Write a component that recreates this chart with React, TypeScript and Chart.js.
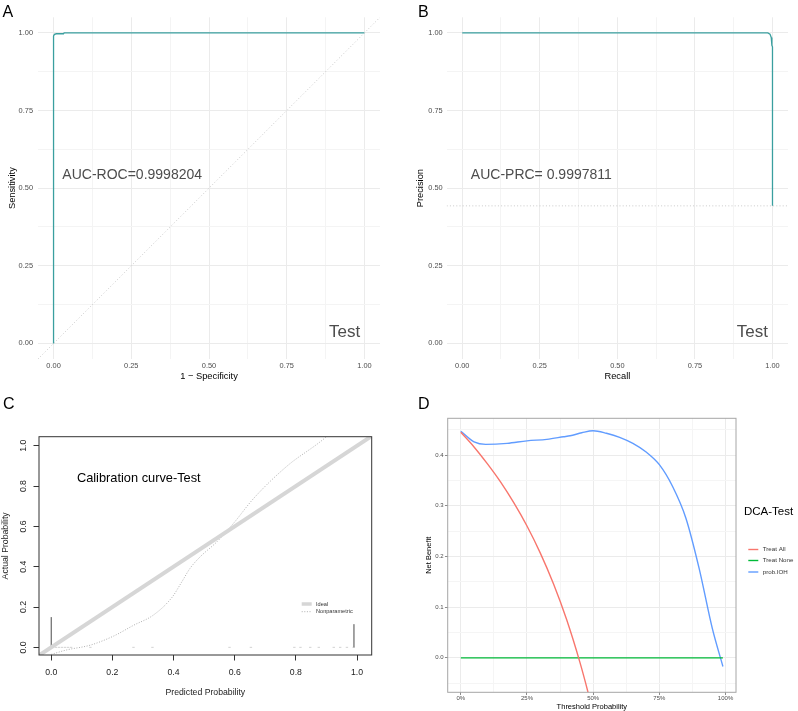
import { useEffect, useRef } from "react";
import { Chart, registerables } from "chart.js";

Chart.register(...registerables);

const FONT = '"Liberation Sans", Arial, Helvetica, sans-serif';

// A: ROC curve on the test set
const rocFpr = [0, 0, 0.003, 0.009, 0.032, 0.034, 1];
const rocTpr = [0, 0.99, 0.995, 0.997, 0.997, 1, 1];
const rocChance = [-0.05, 1.05];
const rocAuc = "0.9998204";

// B: precision-recall curve
const prRecall = [0, 0.985, 0.992, 0.996, 0.998, 1, 1];
const prPrecision = [1, 1, 0.996, 0.985, 0.96, 0.955, 0.443];
const prBaseline = 0.443;
const prAuc = "0.9997811";

// shared tick grid for A and B (labels on quarters)
const eighthTicks = [0, 0.125, 0.25, 0.375, 0.5, 0.625, 0.75, 0.875, 1];

// C: calibration curve
const calPred = [0, 0.05, 0.128, 0.204, 0.27, 0.334, 0.395, 0.427, 0.454, 0.487, 0.542, 0.596, 0.662, 0.771, 0.896, 0.93];
const calObs = [-0.035, -0.013, 0.011, 0.056, 0.11, 0.16, 0.248, 0.325, 0.392, 0.449, 0.524, 0.615, 0.739, 0.899, 1.04, 1.09];
const idealLine = [-0.05, 1.06];
const rugPred = [0.005, 0.015, 0.025, 0.035, 0.045, 0.055, 0.065, 0.128, 0.269, 0.331, 0.583, 0.653, 0.795, 0.815, 0.847, 0.875, 0.924, 0.945, 0.967, 0.989];
const spikeX = [0, 0.99];
const spikeH = [0.15, 0.115];
const calTicks = [0, 0.2, 0.4, 0.6, 0.8, 1];

// D: decision curve analysis
const dcaThreshold = [0, 0.05, 0.094, 0.175, 0.25, 0.325, 0.388, 0.413, 0.457, 0.5, 0.55, 0.6, 0.65, 0.7, 0.75, 0.8, 0.85, 0.9, 0.95, 0.99];
const dcaModel = [0.447, 0.426, 0.421, 0.423, 0.428, 0.431, 0.436, 0.438, 0.444, 0.448, 0.443, 0.435, 0.423, 0.406, 0.381, 0.338, 0.276, 0.177, 0.058, -0.017];
const treatAllThreshold = [0, 0.05, 0.1, 0.15, 0.2, 0.25, 0.3, 0.35, 0.4, 0.45, 0.48, 0.5];
const treatAllNb = [0.445, 0.416, 0.383, 0.347, 0.306, 0.26, 0.207, 0.146, 0.075, -0.009, -0.067, -0.11];
const treatNoneThreshold = [0, 0.99];
const treatNoneNb = [0, 0];
const dcaXTicks = [0, 0.125, 0.25, 0.375, 0.5, 0.625, 0.75, 0.875, 1];
const dcaYTicks = [-0.05, 0, 0.05, 0.1, 0.15, 0.2, 0.25, 0.3, 0.35, 0.4, 0.45];
const dcaLabels = ["Treat All", "Treat None", "prob.IOH"];
const dcaColors = ["#F8766D", "#00BA38", "#619CFF"];

const pts = (xs: number[], ys: number[]) => xs.map((x, i) => ({ x, y: ys[i] }));
const near = (v: number, step: number) => Math.abs(v / step - Math.round(v / step)) < 1e-6;
const font = (size: number) => ({ family: FONT, size });

function rocPrChart(
  canvas: HTMLCanvasElement,
  datasets: any[],
  xTitle: string,
  yTitle: string,
  yAxisWidth: number,
  yTickPad: number,
  yTitlePad: number,
  rightPad: number,
  draw: (chart: any) => void
) {
  const gridColor = (c: any) => (c.tick && near(c.tick.value, 0.25) ? "#ebebeb" : "#f4f4f4");
  return new Chart(canvas, {
    type: "line",
    data: { datasets },
    options: {
      animation: false,
      responsive: false,
      devicePixelRatio: 1,
      layout: { padding: { left: 0, top: 17.3, right: rightPad, bottom: 0 } },
      plugins: { legend: { display: false }, tooltip: { enabled: false } },
      elements: { point: { radius: 0 } },
      scales: {
        x: {
          type: "linear",
          min: -0.05,
          max: 1.05,
          afterBuildTicks: (s: any) => { s.ticks = eighthTicks.map((v) => ({ value: v })); },
          afterFit: (s: any) => { s.height = 26; },
          grid: { color: gridColor, lineWidth: 1, drawTicks: false },
          border: { display: false },
          ticks: {
            autoSkip: false,
            maxRotation: 0,
            padding: 2.6,
            color: "#4d4d4d",
            font: font(7.4),
            callback: (v: any) => (near(Number(v), 0.25) ? Number(v).toFixed(2) : ""),
          },
          title: { display: true, text: xTitle, color: "#000", font: font(9.3), padding: { top: 0, bottom: 3.4 } },
        },
        y: {
          type: "linear",
          min: -0.05,
          max: 1.05,
          afterBuildTicks: (s: any) => { s.ticks = eighthTicks.map((v) => ({ value: v })); },
          afterFit: (s: any) => { s.width = yAxisWidth; },
          grid: { color: gridColor, lineWidth: 1, drawTicks: false },
          border: { display: false },
          ticks: {
            autoSkip: false,
            padding: yTickPad,
            color: "#4d4d4d",
            font: font(7.4),
            callback: (v: any) => (near(Number(v), 0.25) ? Number(v).toFixed(2) : ""),
          },
          title: { display: true, text: yTitle, color: "#000", font: font(9.3), padding: { top: yTitlePad, bottom: 0 } },
        },
      },
    } as any,
    plugins: [{ id: "panelText", afterDraw: draw }],
  });
}

function drawLetter(ctx: CanvasRenderingContext2D, letter: string, x: number, y: number) {
  ctx.save();
  ctx.font = `16px ${FONT}`;
  ctx.fillStyle = "#000";
  ctx.textAlign = "left";
  ctx.textBaseline = "alphabetic";
  ctx.fillText(letter, x, y);
  ctx.restore();
}

function makeA(canvas: HTMLCanvasElement) {
  const datasets = [
    {
      data: pts(rocChance, rocChance),
      borderColor: "#c4c4c4",
      borderWidth: 0.9,
      borderDash: [1, 2.2],
      clip: 0,
    },
    { data: pts(rocFpr, rocTpr), borderColor: "#3a9f9f", borderWidth: 1.3, clip: 2 },
  ];
  return rocPrChart(canvas, datasets, "1 \u2212 Specificity", "Sensitivity", 38, 5, 6.4, 20, (chart: any) => {
    const { ctx, scales } = chart;
    ctx.save();
    ctx.fillStyle = "#4d4d4d";
    ctx.textAlign = "center";
    ctx.textBaseline = "middle";
    ctx.font = `14px ${FONT}`;
    ctx.fillText(`AUC-ROC=${rocAuc}`, scales.x.getPixelForValue(0.253), scales.y.getPixelForValue(0.542));
    ctx.font = `17px ${FONT}`;
    ctx.fillText("Test", scales.x.getPixelForValue(0.936), scales.y.getPixelForValue(0.036));
    ctx.restore();
    drawLetter(ctx, "A", 2.5, 16.7);
  });
}

function makeB(canvas: HTMLCanvasElement) {
  const datasets = [
    {
      data: pts([-0.05, 1.05], [prBaseline, prBaseline]),
      borderColor: "#c4c4c4",
      borderWidth: 0.9,
      borderDash: [1, 2.2],
      clip: 0,
    },
    { data: pts(prRecall, prPrecision), borderColor: "#3a9f9f", borderWidth: 1.3, clip: 2 },
  ];
  return rocPrChart(canvas, datasets, "Recall", "Precision", 46.7, 4, 15.1, 10, (chart: any) => {
    const { ctx, scales } = chart;
    ctx.save();
    ctx.fillStyle = "#4d4d4d";
    ctx.textAlign = "center";
    ctx.textBaseline = "middle";
    ctx.font = `14px ${FONT}`;
    ctx.fillText(`AUC-PRC= ${prAuc}`, scales.x.getPixelForValue(0.255), scales.y.getPixelForValue(0.542));
    ctx.font = `17px ${FONT}`;
    ctx.fillText("Test", scales.x.getPixelForValue(0.935), scales.y.getPixelForValue(0.036));
    ctx.restore();
    drawLetter(ctx, "B", 18, 16.7);
  });
}

function makeC(canvas: HTMLCanvasElement) {
  const spikes = spikeX.map((x, i) => ({
    data: pts([x, x], [0, spikeH[i]]),
    borderColor: "#4a4a4a",
    borderWidth: 1,
  }));
  return new Chart(canvas, {
    type: "line",
    data: {
      datasets: [
        { data: pts(idealLine, idealLine), borderColor: "#d6d6d6", borderWidth: 4, clip: 0 },
        {
          data: pts(calPred, calObs),
          borderColor: "#9a9a9a",
          borderWidth: 0.8,
          borderDash: [1, 1.6],
          cubicInterpolationMode: "monotone",
          clip: 0,
        },
        ...spikes,
        {
          data: pts(rugPred, rugPred.map(() => 0)),
          showLine: false,
          pointStyle: "line",
          pointRadius: 1.2,
          pointBorderColor: "#d2d2d2",
          pointBorderWidth: 1,
        },
      ],
    },
    options: {
      animation: false,
      responsive: false,
      devicePixelRatio: 1,
      layout: { padding: { left: 0, top: 51.7, right: 28.3, bottom: 0 } },
      plugins: { legend: { display: false }, tooltip: { enabled: false } },
      elements: { point: { radius: 0 } },
      scales: {
        x: {
          type: "linear",
          min: -0.04,
          max: 1.048,
          afterBuildTicks: (s: any) => { s.ticks = calTicks.map((v) => ({ value: v })); },
          afterFit: (s: any) => { s.height = 56; },
          grid: { display: true, drawOnChartArea: false, drawTicks: true, tickLength: 5.5, color: "#333", lineWidth: 1 },
          border: { display: false },
          ticks: { autoSkip: false, maxRotation: 0, padding: 6.6, color: "#222", font: font(8.7), callback: (v: any) => Number(v).toFixed(1) },
          title: { display: true, text: "Predicted Probability", color: "#222", font: font(8.7), padding: { top: 0, bottom: 13.5 } },
        },
        y: {
          type: "linear",
          min: -0.038,
          max: 1.045,
          afterBuildTicks: (s: any) => { s.ticks = calTicks.map((v) => ({ value: v })); },
          afterFit: (s: any) => { s.width = 39; },
          grid: { display: true, drawOnChartArea: false, drawTicks: true, tickLength: 5.5, color: "#333", lineWidth: 1 },
          border: { display: false },
          ticks: { autoSkip: false, padding: 0, font: font(8.7), callback: () => "" },
          title: { display: true, text: "Actual Probability", color: "#222", font: font(8.7), padding: { top: 0, bottom: 0 } },
        },
      },
    } as any,
    plugins: [
      {
        id: "calibrationDecor",
        afterDraw(chart: any) {
          const { ctx, chartArea: a, scales } = chart;
          ctx.save();
          ctx.strokeStyle = "#333";
          ctx.lineWidth = 1;
          ctx.strokeRect(a.left, a.top, a.right - a.left, a.bottom - a.top);
          // y tick labels run parallel to the axis
          ctx.fillStyle = "#222";
          ctx.font = `8.7px ${FONT}`;
          ctx.textAlign = "center";
          ctx.textBaseline = "middle";
          calTicks.forEach((v) => {
            ctx.save();
            ctx.translate(24, scales.y.getPixelForValue(v));
            ctx.rotate(-Math.PI / 2);
            ctx.fillText(v.toFixed(1), 0, 0);
            ctx.restore();
          });
          ctx.fillStyle = "#000";
          ctx.textAlign = "left";
          ctx.font = `12.8px ${FONT}`;
          ctx.fillText("Calibration curve-Test", scales.x.getPixelForValue(0.084), scales.y.getPixelForValue(0.838));
          // legend
          ctx.strokeStyle = "#d6d6d6";
          ctx.lineWidth = 3.5;
          ctx.beginPath();
          ctx.moveTo(301.7, 219);
          ctx.lineTo(311.7, 219);
          ctx.stroke();
          ctx.strokeStyle = "#9a9a9a";
          ctx.lineWidth = 0.8;
          ctx.setLineDash([1, 1.6]);
          ctx.beginPath();
          ctx.moveTo(301.7, 226.7);
          ctx.lineTo(311.7, 226.7);
          ctx.stroke();
          ctx.setLineDash([]);
          ctx.fillStyle = "#333";
          ctx.font = `5.6px ${FONT}`;
          ctx.fillText("Ideal", 316, 219);
          ctx.fillText("Nonparametric", 316, 226.7);
          ctx.restore();
          drawLetter(ctx, "C", 3, 24.3);
        },
      },
    ],
  });
}

function makeD(canvas: HTMLCanvasElement) {
  const series = [
    pts(treatAllThreshold, treatAllNb),
    pts(treatNoneThreshold, treatNoneNb),
    pts(dcaThreshold, dcaModel),
  ];
  return new Chart(canvas, {
    type: "line",
    data: {
      datasets: series.map((data, i) => ({
        label: dcaLabels[i],
        data,
        borderColor: dcaColors[i],
        borderWidth: 1.4,
        cubicInterpolationMode: "monotone",
        clip: 0,
      })),
    },
    options: {
      animation: false,
      responsive: false,
      devicePixelRatio: 1,
      layout: { padding: { left: 0, top: 33.3, right: 62, bottom: 0 } },
      plugins: { legend: { display: false }, tooltip: { enabled: false } },
      elements: { point: { radius: 0 } },
      scales: {
        x: {
          type: "linear",
          min: -0.0495,
          max: 1.0395,
          afterBuildTicks: (s: any) => { s.ticks = dcaXTicks.map((v) => ({ value: v })); },
          afterFit: (s: any) => { s.height = 18.7; },
          grid: {
            color: (c: any) => (c.tick && near(c.tick.value, 0.25) ? "#ebebeb" : "#f5f5f5"),
            tickColor: (c: any) => (c.tick && near(c.tick.value, 0.25) ? "#8c8c8c" : "rgba(0,0,0,0)"),
            lineWidth: 1,
            drawTicks: true,
            tickLength: 2.75,
          },
          border: { display: false },
          ticks: {
            autoSkip: false,
            maxRotation: 0,
            padding: 0,
            color: "#4d4d4d",
            font: font(6),
            callback: (v: any) => (near(Number(v), 0.25) ? `${Math.round(Number(v) * 100)}%` : ""),
          },
          title: { display: true, text: "Threshold Probability", color: "#000", font: font(7.5), padding: { top: 0, bottom: 0 } },
        },
        y: {
          type: "linear",
          min: -0.068,
          max: 0.4725,
          afterBuildTicks: (s: any) => { s.ticks = dcaYTicks.map((v) => ({ value: v })); },
          afterFit: (s: any) => { s.width = 47.7; },
          grid: {
            color: (c: any) => (c.tick && near(c.tick.value, 0.1) ? "#ebebeb" : "#f5f5f5"),
            tickColor: (c: any) => (c.tick && near(c.tick.value, 0.1) ? "#8c8c8c" : "rgba(0,0,0,0)"),
            lineWidth: 1,
            drawTicks: true,
            tickLength: 2.75,
          },
          border: { display: false },
          ticks: {
            autoSkip: false,
            padding: 1.4,
            color: "#4d4d4d",
            font: font(6),
            callback: (v: any) => (near(Number(v), 0.1) ? Number(v).toFixed(1) : ""),
          },
          title: { display: true, text: "Net Benefit", color: "#000", font: font(7.5), padding: { top: 24.8, bottom: 0 } },
        },
      },
    } as any,
    plugins: [
      {
        id: "dcaDecor",
        afterDraw(chart: any) {
          const { ctx, chartArea: a } = chart;
          ctx.save();
          ctx.strokeStyle = "#a6a6a6";
          ctx.lineWidth = 1;
          ctx.strokeRect(a.left, a.top, a.right - a.left, a.bottom - a.top);
          ctx.fillStyle = "#000";
          ctx.font = `11.5px ${FONT}`;
          ctx.textAlign = "left";
          ctx.textBaseline = "middle";
          ctx.fillText("DCA-Test", 344, 127.3);
          const rows = [164.5, 175.5, 187];
          dcaLabels.forEach((label, i) => {
            ctx.strokeStyle = dcaColors[i];
            ctx.lineWidth = 1.4;
            ctx.beginPath();
            ctx.moveTo(348.3, rows[i]);
            ctx.lineTo(358.3, rows[i]);
            ctx.stroke();
            ctx.fillStyle = "#333";
            ctx.font = `6.2px ${FONT}`;
            ctx.fillText(label, 362.7, rows[i]);
          });
          ctx.restore();
          drawLetter(ctx, "D", 18, 24.3);
        },
      },
    ],
  });
}

type PanelProps = {
  left: number;
  top: number;
  width: number;
  height: number;
  make: (c: HTMLCanvasElement) => Chart;
};

function Panel({ left, top, width, height, make }: PanelProps) {
  const ref = useRef<HTMLCanvasElement>(null);
  useEffect(() => {
    const chart = make(ref.current as HTMLCanvasElement);
    return () => chart.destroy();
  }, [make]);
  return (
    <canvas
      ref={ref}
      width={width}
      height={height}
      style={{ position: "absolute", left, top, width, height, display: "block" }}
    />
  );
}

export default function App() {
  return (
    <div style={{ position: "absolute", left: 0, top: 0, width: 798, height: 711, background: "#fff", overflow: "hidden" }}>
      <Panel left={0} top={0} width={400} height={385} make={makeA} />
      <Panel left={400} top={0} width={398} height={385} make={makeB} />
      <Panel left={0} top={385} width={400} height={326} make={makeC} />
      <Panel left={400} top={385} width={398} height={326} make={makeD} />
    </div>
  );
}
